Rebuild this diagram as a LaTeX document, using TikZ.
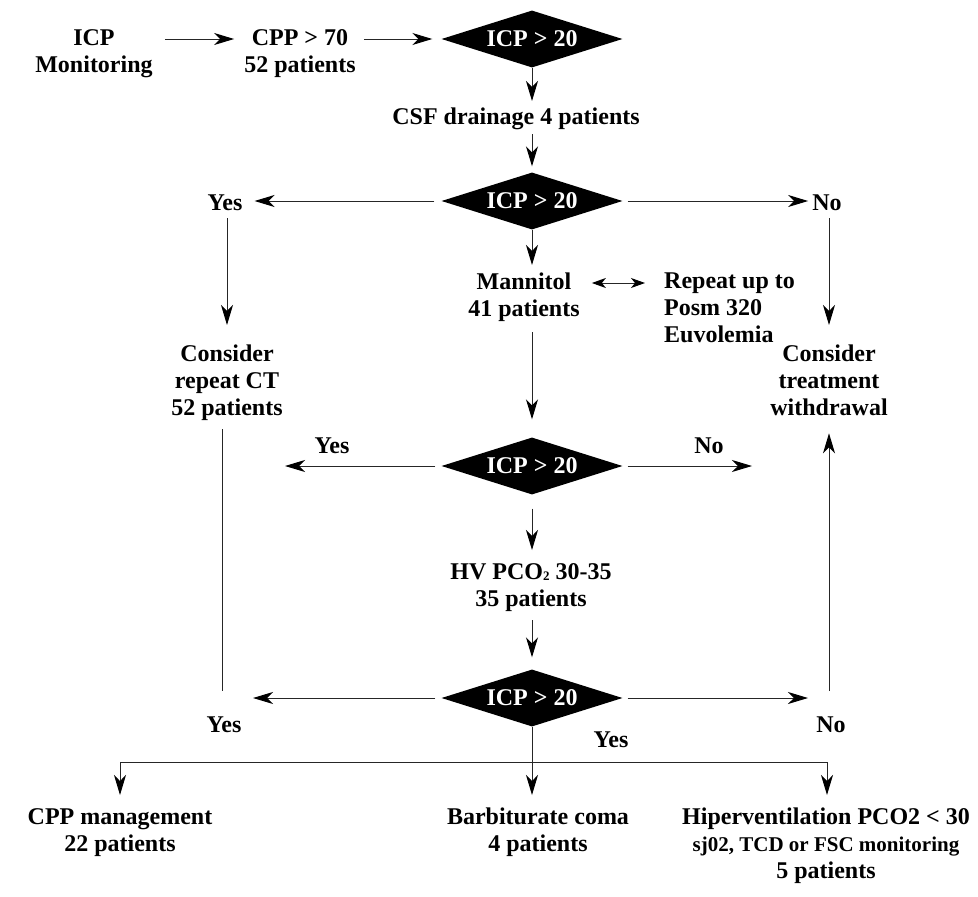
\documentclass[tikz,border=0pt]{standalone}
\usepackage{fontspec}
\setmainfont{Liberation Serif}
\usetikzlibrary{shapes.geometric,arrows.meta}
\begin{document}
\begin{tikzpicture}[x=1pt,y=-1pt,
  txt/.style={font=\fontsize{24}{27}\selectfont\bfseries, align=center, inner sep=0pt, anchor=north},
  lbl/.style={font=\fontsize{24}{27}\selectfont\bfseries, inner sep=0pt},
  dia/.style={diamond, shape aspect=3.2, fill=black, text=white, inner sep=0pt, minimum width=181pt, minimum height=57pt, font=\fontsize{24}{27}\selectfont\bfseries},
  ln/.style={draw=black!85, line width=1pt},
  arr/.style={ln, -{Stealth[length=20pt, width=12pt, inset=6pt, color=black]}},
  darr/.style={ln, {Stealth[length=14pt, width=10pt, inset=4pt, color=black]}-{Stealth[length=14pt, width=10pt, inset=4pt, color=black]}}]
\useasboundingbox (0,0) rectangle (978,897);

% nodes
\node[txt] (icp) at (94,29) {ICP\\Monitoring};
\node[txt] (cpp) at (300,29) {CPP > 70\\52 patients};
\node[dia] (d1) at (532,39) {ICP > 20};
\node[txt] (csf) at (516,108) {CSF drainage 4 patients};
\node[dia] (d2) at (532,201) {ICP > 20};
\node[lbl] (yes2) at (225,203) {Yes};
\node[lbl] (no2) at (827,203) {No};
\node[txt] (man) at (524,273) {Mannitol\\41 patients};
\node[txt, anchor=north west, align=left] (rep) at (664,273) {Repeat up to\\Posm 320\\Euvolemia};
\node[txt] (ct) at (227,345) {Consider\\repeat CT\\52 patients};
\node[txt] (tw) at (829,345) {Consider\\treatment\\withdrawal};
\node[dia] (d3) at (532,466) {ICP > 20};
\node[lbl] (yes3) at (332,446) {Yes};
\node[lbl] (no3) at (709,446) {No};
\node[txt] (hv) at (531,563) {HV PCO\raisebox{-1pt}{\fontsize{13}{13}\selectfont 2} 30-35\\35 patients};
\node[dia] (d4) at (532,698) {ICP > 20};
\node[lbl] (yes4) at (224,725) {Yes};
\node[lbl] (no4) at (831,725) {No};
\node[lbl] (yes5) at (611,740) {Yes};
\node[txt] (cppm) at (120,808) {CPP management\\22 patients};
\node[txt] (barb) at (538,808) {Barbiturate coma\\4 patients};
\node[txt] (hip) at (826,808) {Hiperventilation PCO2 < 30\\{\fontsize{21}{27}\selectfont sj02, TCD or FSC monitoring}\\5 patients};

% free ends
\coordinate (y3end) at (285,466);
\coordinate (n3end) at (752,466);
\coordinate (y4end) at (253,698);
\coordinate (n4end) at (808,698);
\coordinate (ctl) at (222,691);
\coordinate (twl) at (829,691);
\coordinate (barL) at (120,762);
\coordinate (barR) at (827,762);

% connectors
\draw[arr, shorten <=12pt, shorten >=10pt] (icp.east |- d1.west) -- (cpp.west |- d1.west);
\draw[arr, shorten <=8pt, shorten >=9pt] (cpp.east |- d1.west) -- (d1.west);
\draw[arr, shorten >=7pt] (d1.south) -- (d1.south |- csf.north);
\draw[arr, shorten <=4pt, shorten >=6pt] (d1.south |- csf.south) -- (d2.north);
\draw[arr, shorten <=7pt, shorten >=12pt] (d2.west) -- (d2.west -| yes2.east);
\draw[arr, shorten <=5pt, shorten >=4pt] (d2.east) -- (d2.east -| no2.west);
\draw[arr, shorten >=8pt] (d2.south) -- (d2.south |- man.north);
\draw[darr, shorten <=12pt, shorten >=19pt] ([yshift=-10pt]man.north east) -- ([yshift=-10pt]rep.north west);
\draw[arr, shorten <=7pt, shorten >=20pt] (yes2.south -| ct.north) -- (ct.north);
\draw[arr, shorten <=7pt, shorten >=20pt] (no2.south -| tw.north) -- (tw.north);
\draw[arr, shorten <=10pt, shorten >=18pt] (d2.south |- man.south) -- (d3.north);
\draw[arr, shorten <=6pt] (d3.west) -- (y3end);
\draw[arr, shorten <=5pt] (d3.east) -- (n3end);
\draw[arr, shorten <=14pt, shorten >=13pt] (d3.south) -- (d3.south |- hv.north);
\draw[arr, shorten <=9pt, shorten >=12pt] (d3.south |- hv.south) -- (d4.north);
\draw[arr, shorten <=6pt] (d4.west) -- (y4end);
\draw[arr, shorten <=5pt] (d4.east) -- (n4end);
\draw[ln, shorten <=8pt] (ctl |- ct.south) -- (ctl);
\draw[arr, shorten >=17pt] (twl) -- (twl |- tw.south);
\draw[ln] (barL) -- (barR);
\draw[arr, shorten >=13pt] (d4.south) -- (d4.south |- barb.north);
\draw[arr, shorten >=13pt] (barL) -- (barL |- cppm.north);
\draw[arr, shorten >=13pt] (barR) -- (barR |- hip.north);
\end{tikzpicture}
\end{document}
